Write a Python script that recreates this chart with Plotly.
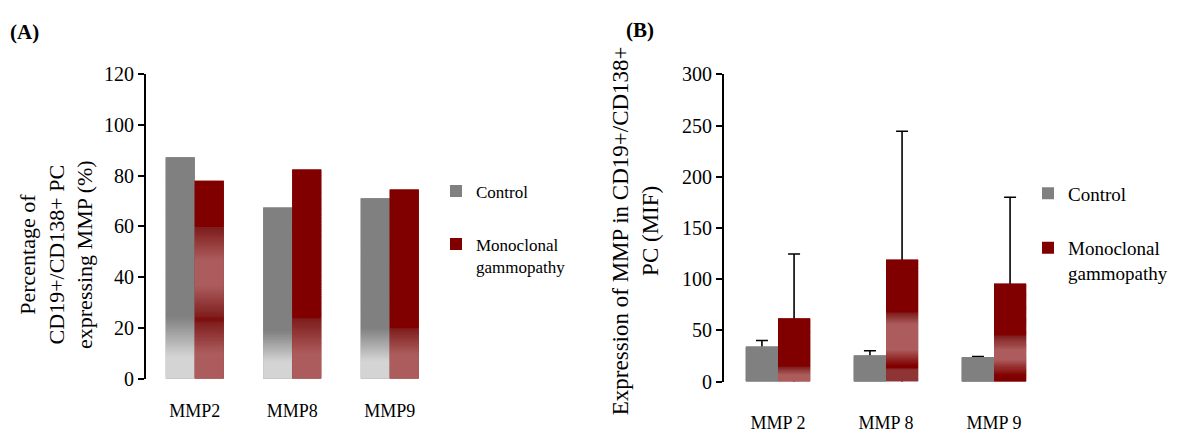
import plotly.graph_objects as go

# ---------------- data ----------------
cats_a = ["MMP2", "MMP8", "MMP9"]
control_a = [87.2, 67.4, 71.1]
mono_a = [77.9, 82.4, 74.5]

cats_b = ["MMP 2", "MMP 8", "MMP 9"]
control_b = [33.5, 25.0, 23.5]
control_b_err = [6.5, 5.0, 1.0]
mono_b = [61.5, 119.0, 95.5]
mono_b_err = [63.0, 125.5, 84.5]

# ---------------- styles ----------------
FONT = "Liberation Serif, Times New Roman, serif"
GREY = "#808080"
LGREY = "#d4d4d4"
DRED = "#800000"
D2 = "#7e1c1c"
LRED = "#ac5c5c"
MRED = "#8e3434"

# gradient stops (fraction of bar height from bottom, colour) per bar
grad_ctrl_a = [[(0, LGREY), (0.1, LGREY), (0.28, GREY), (1, GREY)]] * 3
grad_mono_a = [
    [(0, LRED), (0.13, LRED), (0.29, D2), (0.30, DRED), (0.31, D2), (0.47, LRED), (0.6, LRED), (0.765, D2), (0.77, DRED), (1, DRED)],
    [(0, LRED), (0.12, LRED), (0.288, D2), (0.292, DRED), (1, DRED)],
    [(0, LRED), (0.13, LRED), (0.268, D2), (0.272, DRED), (1, DRED)],
]
grad_ctrl_b = [[(0, GREY), (1, GREY)]] * 3
grad_mono_b = [
    [(0, LRED), (0.12, LRED), (0.245, D2), (0.25, DRED), (1, DRED)],
    [(0, MRED), (0.1, MRED), (0.11, DRED), (0.13, DRED), (0.26, LRED), (0.47, LRED), (0.565, D2), (0.57, DRED), (1, DRED)],
    [(0, DRED), (0.07, DRED), (0.23, LRED), (0.33, LRED), (0.475, D2), (0.48, DRED), (1, DRED)],
]


def hex2rgb(h):
    h = h.lstrip("#")
    return tuple(int(h[i:i + 2], 16) for i in (0, 2, 4))


def interp(stops, f):
    for (f0, c0), (f1, c1) in zip(stops[:-1], stops[1:]):
        if f0 <= f <= f1:
            t = 0 if f1 == f0 else (f - f0) / (f1 - f0)
            a, b = hex2rgb(c0), hex2rgb(c1)
            return "rgb(%d,%d,%d)" % tuple(round(a[i] + (b[i] - a[i]) * t) for i in range(3))
    return stops[-1][1]


fig = go.Figure()
N = 90


def add_series(cats, vals, grads, name, solid, xa, ya, group, legend, lgroup, err=None):
    # base solid bar (legend entry)
    fig.add_trace(go.Bar(x=cats, y=vals, name=name, marker=dict(color=solid, line=dict(width=0)),
                         xaxis=xa, yaxis=ya, offsetgroup=group, legend=legend, legendgroup=lgroup,
                         showlegend=True, hoverinfo="skip"))
    # error bars: symmetric, lower half is hidden behind the bar drawn afterwards
    if err is not None:
        fig.add_trace(go.Bar(x=cats, y=vals, marker=dict(color="rgba(0,0,0,0)", line=dict(width=0)),
                             xaxis=xa, yaxis=ya, offsetgroup=group, showlegend=False, legend=legend,
                             hoverinfo="skip",
                             error_y=dict(type="data", array=err, color="black", thickness=1.6, width=6)))
    # gradient segments
    for k in range(N):
        f0, f1 = k / N, min((k + 1.6) / N, 1.0)
        cols = [interp(g, (k + 0.5) / N) for g in grads]
        fig.add_trace(go.Bar(x=cats, y=[v * (f1 - f0) for v in vals], base=[v * f0 for v in vals],
                             marker=dict(color=cols, line=dict(width=0)), xaxis=xa, yaxis=ya,
                             offsetgroup=group, showlegend=False, hoverinfo="skip", legend=legend))


add_series(cats_a, control_a, grad_ctrl_a, "Control", GREY, "x", "y", "c", "legend", "g1")
add_series(cats_a, mono_a, grad_mono_a, "Monoclonal<br>gammopathy", DRED, "x", "y", "m", "legend", "g2")
add_series(cats_b, control_b, grad_ctrl_b, "Control", GREY, "x2", "y2", "c", "legend2", "h1", control_b_err)
add_series(cats_b, mono_b, grad_mono_b, "Monoclonal<br>gammopathy", DRED, "x2", "y2", "m", "legend2", "h2", mono_b_err)

W, H = 1180, 434

yax = dict(showline=True, linecolor="black", linewidth=2, ticks="outside", ticklen=6, tickwidth=2,
           tickcolor="black", showgrid=False, zeroline=False, tickfont=dict(family=FONT, size=20, color="black"))
xax = dict(type="category", showline=False, ticks="", showgrid=False, zeroline=False,
           tickfont=dict(family=FONT, size=18, color="black"))

fig.update_layout(
    width=W, height=H, margin=dict(l=0, r=0, t=0, b=0),
    paper_bgcolor="white", plot_bgcolor="white",
    barmode="group", bargap=0.405, bargroupgap=0,
    font=dict(family=FONT, color="black"),
    xaxis=dict(xax, domain=[146 / W, 438.5 / W], range=[-0.5, 2.5], anchor="y", ticklabelstandoff=19),
    yaxis=dict(yax, domain=[(H - 387.5) / H, (H - 66.2) / H], range=[0, 120], dtick=20, anchor="x"),
    xaxis2=dict(xax, domain=[724 / W, 1048 / W], range=[-0.5, 2.5], anchor="y2", ticklabelstandoff=28),
    yaxis2=dict(yax, domain=[(H - 390.3) / H, (H - 66.8) / H], range=[0, 300], dtick=50, anchor="x2"),
    legend=dict(x=436 / W, y=1 - 171 / H, xanchor="left", yanchor="top", bgcolor="rgba(0,0,0,0)",
                font=dict(family=FONT, size=17, color="black"), tracegroupgap=28, valign="top",
                traceorder="grouped"),
    legend2=dict(x=1028 / W, y=1 - 172 / H, xanchor="left", yanchor="top", bgcolor="rgba(0,0,0,0)",
                 font=dict(family=FONT, size=19, color="black"), tracegroupgap=27, valign="top",
                 traceorder="grouped"),
    showlegend=True,
    annotations=[
        dict(text="Percentage of<br>CD19+/CD138+ PC<br>expressing MMP (%)", x=56 / W, y=1 - 257 / H,
             xref="paper", yref="paper", textangle=-90, showarrow=False, xanchor="center", yanchor="middle",
             font=dict(family=FONT, size=22, color="black")),
        dict(text="Expression of MMP in CD19+/CD138+<br>PC (MIF)", x=635 / W, y=1 - 232 / H,
             xref="paper", yref="paper", textangle=-90, showarrow=False, xanchor="center", yanchor="middle",
             font=dict(family=FONT, size=23, color="black")),
        dict(text="<b>(A)</b>", x=24 / W, y=1 - 22 / H, xref="paper", yref="paper", showarrow=False,
             xanchor="center", yanchor="middle", font=dict(family=FONT, size=21, color="black")),
        dict(text="<b>(B)</b>", x=640 / W, y=1 - 20 / H, xref="paper", yref="paper", showarrow=False,
             xanchor="center", yanchor="middle", font=dict(family=FONT, size=21, color="black")),
    ],
)

fig.write_html("out.html")
